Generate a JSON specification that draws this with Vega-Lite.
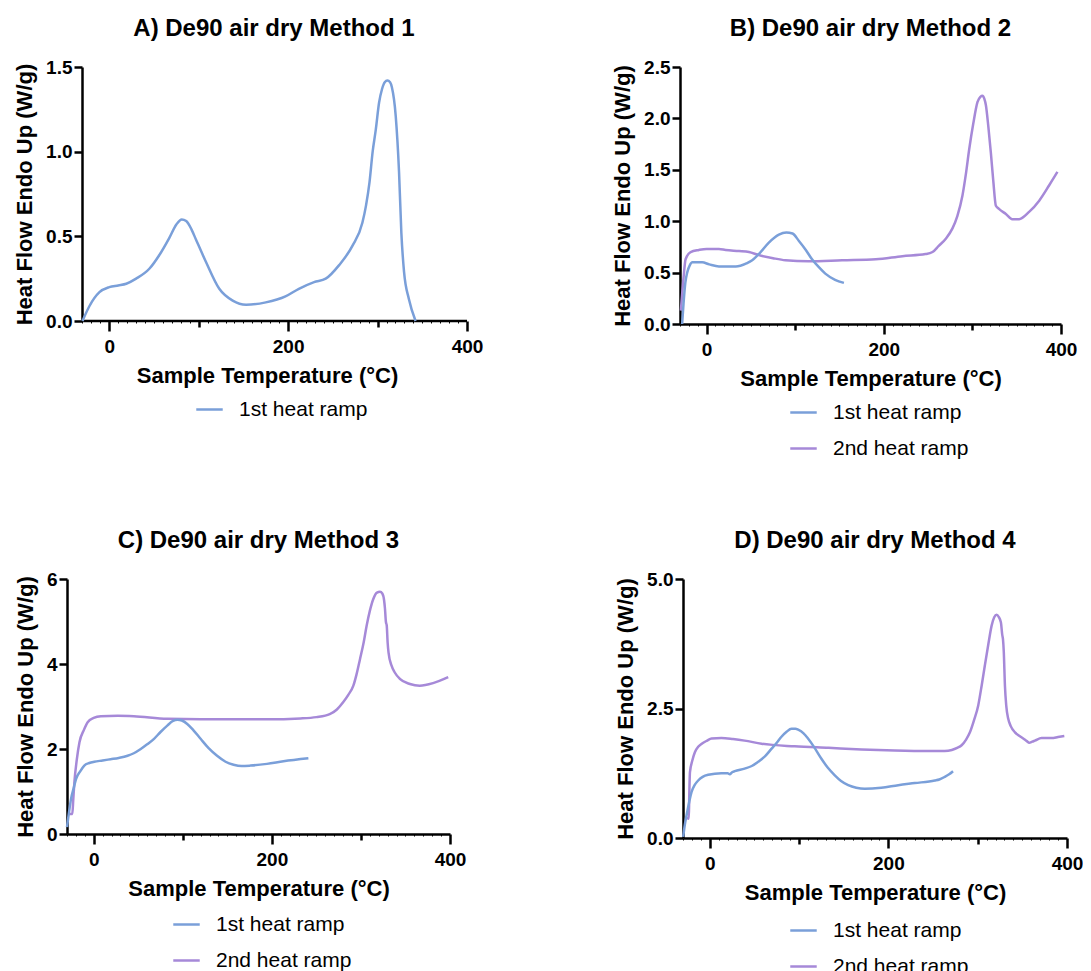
{
  "$schema": "https://vega.github.io/schema/vega-lite/v6.json",
  "background": "white",
  "padding": {"left": 13, "top": 17, "right": 0, "bottom": 0},
  "config": {
    "font": "Liberation Sans",
    "view": {"stroke": null},
    "title": {"fontSize": 24, "fontWeight": "bold", "color": "black", "font": "Liberation Sans", "offset": 17, "anchor": "middle"},
    "axis": {"domainColor": "black", "domainWidth": 2.5, "tickColor": "black", "tickWidth": 2.5, "labelFontSize": 19, "labelFontWeight": "bold", "labelColor": "black", "labelFont": "Liberation Sans", "titleFontSize": 22, "titleFontWeight": "bold", "titleColor": "black", "titleFont": "Liberation Sans", "grid": false},
    "axisY": {"tickSize": 8, "labelPadding": 2, "titlePadding": 9},
    "axisX": {"labelPadding": 6, "titlePadding": 9},
    "legend": {"labelFontSize": 21, "labelFont": "Liberation Sans", "labelColor": "black", "symbolType": "stroke", "symbolStrokeWidth": 3, "symbolSize": 700, "labelOffset": 15, "rowPadding": 11, "direction": "vertical", "orient": "none"},
    "line": {"strokeWidth": 2.5, "interpolate": "monotone"}
  },
  "datasets": {
    "Abase": [{"t": -30, "t2": 400, "h": 0}],
    "A": [
      {"r":"1st heat ramp","t":-30,"h":0},{"r":"1st heat ramp","t":-22,"h":0.09},{"r":"1st heat ramp","t":-11,"h":0.17},{"r":"1st heat ramp","t":0,"h":0.2},{"r":"1st heat ramp","t":10,"h":0.21},{"r":"1st heat ramp","t":19,"h":0.22},{"r":"1st heat ramp","t":30,"h":0.25},{"r":"1st heat ramp","t":45,"h":0.31},{"r":"1st heat ramp","t":56,"h":0.39},{"r":"1st heat ramp","t":67,"h":0.49},{"r":"1st heat ramp","t":75,"h":0.57},{"r":"1st heat ramp","t":81,"h":0.6},{"r":"1st heat ramp","t":86,"h":0.59},{"r":"1st heat ramp","t":92,"h":0.54},{"r":"1st heat ramp","t":97,"h":0.48},{"r":"1st heat ramp","t":108,"h":0.35},{"r":"1st heat ramp","t":123,"h":0.19},{"r":"1st heat ramp","t":138,"h":0.12},{"r":"1st heat ramp","t":153,"h":0.096},{"r":"1st heat ramp","t":175,"h":0.11},{"r":"1st heat ramp","t":197,"h":0.145},{"r":"1st heat ramp","t":212,"h":0.19},{"r":"1st heat ramp","t":229,"h":0.23},{"r":"1st heat ramp","t":242,"h":0.25},{"r":"1st heat ramp","t":257,"h":0.33},{"r":"1st heat ramp","t":272,"h":0.445},{"r":"1st heat ramp","t":283,"h":0.58},{"r":"1st heat ramp","t":287,"h":0.68},{"r":"1st heat ramp","t":291,"h":0.82},{"r":"1st heat ramp","t":294.5,"h":1.0},{"r":"1st heat ramp","t":298,"h":1.13},{"r":"1st heat ramp","t":301.7,"h":1.29},{"r":"1st heat ramp","t":305,"h":1.37},{"r":"1st heat ramp","t":308,"h":1.41},{"r":"1st heat ramp","t":311,"h":1.42},{"r":"1st heat ramp","t":314,"h":1.41},{"r":"1st heat ramp","t":316,"h":1.38},{"r":"1st heat ramp","t":320.3,"h":1.21},{"r":"1st heat ramp","t":324,"h":0.88},{"r":"1st heat ramp","t":326.6,"h":0.52},{"r":"1st heat ramp","t":329.6,"h":0.29},{"r":"1st heat ramp","t":335,"h":0.13},{"r":"1st heat ramp","t":342.5,"h":0}
    ],
    "B": [
      {"r":"2nd heat ramp","t":-29,"h":0.13},{"r":"2nd heat ramp","t":-26,"h":0.45},{"r":"2nd heat ramp","t":-23.7,"h":0.63},{"r":"2nd heat ramp","t":-18,"h":0.7},{"r":"2nd heat ramp","t":-8.7,"h":0.72},{"r":"2nd heat ramp","t":0,"h":0.73},{"r":"2nd heat ramp","t":14,"h":0.73},{"r":"2nd heat ramp","t":21.5,"h":0.72},{"r":"2nd heat ramp","t":36.6,"h":0.71},{"r":"2nd heat ramp","t":47.8,"h":0.7},{"r":"2nd heat ramp","t":59,"h":0.67},{"r":"2nd heat ramp","t":75,"h":0.64},{"r":"2nd heat ramp","t":89,"h":0.62},{"r":"2nd heat ramp","t":115,"h":0.61},{"r":"2nd heat ramp","t":153,"h":0.62},{"r":"2nd heat ramp","t":191,"h":0.63},{"r":"2nd heat ramp","t":221,"h":0.66},{"r":"2nd heat ramp","t":247,"h":0.68},{"r":"2nd heat ramp","t":255,"h":0.7},{"r":"2nd heat ramp","t":262,"h":0.76},{"r":"2nd heat ramp","t":270,"h":0.83},{"r":"2nd heat ramp","t":277.5,"h":0.93},{"r":"2nd heat ramp","t":283,"h":1.05},{"r":"2nd heat ramp","t":288.8,"h":1.25},{"r":"2nd heat ramp","t":292.5,"h":1.45},{"r":"2nd heat ramp","t":296.4,"h":1.7},{"r":"2nd heat ramp","t":301,"h":1.95},{"r":"2nd heat ramp","t":305.8,"h":2.16},{"r":"2nd heat ramp","t":309,"h":2.21},{"r":"2nd heat ramp","t":311.4,"h":2.22},{"r":"2nd heat ramp","t":313.5,"h":2.19},{"r":"2nd heat ramp","t":315.2,"h":2.13},{"r":"2nd heat ramp","t":318,"h":1.92},{"r":"2nd heat ramp","t":320.8,"h":1.67},{"r":"2nd heat ramp","t":323.5,"h":1.4},{"r":"2nd heat ramp","t":326.5,"h":1.15},{"r":"2nd heat ramp","t":330,"h":1.12},{"r":"2nd heat ramp","t":337.8,"h":1.07},{"r":"2nd heat ramp","t":345,"h":1.02},{"r":"2nd heat ramp","t":352.8,"h":1.02},{"r":"2nd heat ramp","t":364,"h":1.09},{"r":"2nd heat ramp","t":375.4,"h":1.2},{"r":"2nd heat ramp","t":386.7,"h":1.35},{"r":"2nd heat ramp","t":396,"h":1.48},
      {"r":"1st heat ramp","t":-27.6,"h":0},{"r":"1st heat ramp","t":-26,"h":0.2},{"r":"1st heat ramp","t":-24,"h":0.4},{"r":"1st heat ramp","t":-21.9,"h":0.5},{"r":"1st heat ramp","t":-19,"h":0.57},{"r":"1st heat ramp","t":-16,"h":0.6},{"r":"1st heat ramp","t":-5,"h":0.6},{"r":"1st heat ramp","t":3,"h":0.58},{"r":"1st heat ramp","t":14,"h":0.56},{"r":"1st heat ramp","t":33,"h":0.56},{"r":"1st heat ramp","t":45,"h":0.59},{"r":"1st heat ramp","t":51.5,"h":0.62},{"r":"1st heat ramp","t":60,"h":0.69},{"r":"1st heat ramp","t":70,"h":0.79},{"r":"1st heat ramp","t":81.6,"h":0.87},{"r":"1st heat ramp","t":90,"h":0.89},{"r":"1st heat ramp","t":97,"h":0.88},{"r":"1st heat ramp","t":104,"h":0.81},{"r":"1st heat ramp","t":112,"h":0.72},{"r":"1st heat ramp","t":119,"h":0.63},{"r":"1st heat ramp","t":127,"h":0.55},{"r":"1st heat ramp","t":134,"h":0.49},{"r":"1st heat ramp","t":145,"h":0.43},{"r":"1st heat ramp","t":155,"h":0.4}
    ],
    "C": [
      {"r":"2nd heat ramp","t":-27.5,"h":0.47},{"r":"2nd heat ramp","t":-24,"h":0.47},{"r":"2nd heat ramp","t":-23,"h":0.8},{"r":"2nd heat ramp","t":-21.7,"h":1.22},{"r":"2nd heat ramp","t":-19,"h":1.75},{"r":"2nd heat ramp","t":-16,"h":2.16},{"r":"2nd heat ramp","t":-11,"h":2.45},{"r":"2nd heat ramp","t":-6.8,"h":2.63},{"r":"2nd heat ramp","t":0,"h":2.73},{"r":"2nd heat ramp","t":8,"h":2.77},{"r":"2nd heat ramp","t":27,"h":2.78},{"r":"2nd heat ramp","t":45,"h":2.77},{"r":"2nd heat ramp","t":82.6,"h":2.71},{"r":"2nd heat ramp","t":120,"h":2.7},{"r":"2nd heat ramp","t":157,"h":2.7},{"r":"2nd heat ramp","t":194.5,"h":2.7},{"r":"2nd heat ramp","t":232,"h":2.72},{"r":"2nd heat ramp","t":250,"h":2.75},{"r":"2nd heat ramp","t":265,"h":2.82},{"r":"2nd heat ramp","t":273,"h":2.93},{"r":"2nd heat ramp","t":280,"h":3.1},{"r":"2nd heat ramp","t":286,"h":3.28},{"r":"2nd heat ramp","t":291.5,"h":3.49},{"r":"2nd heat ramp","t":295,"h":3.75},{"r":"2nd heat ramp","t":299,"h":4.12},{"r":"2nd heat ramp","t":303,"h":4.5},{"r":"2nd heat ramp","t":306.4,"h":4.9},{"r":"2nd heat ramp","t":310,"h":5.25},{"r":"2nd heat ramp","t":313.9,"h":5.53},{"r":"2nd heat ramp","t":318,"h":5.68},{"r":"2nd heat ramp","t":321.4,"h":5.7},{"r":"2nd heat ramp","t":324,"h":5.66},{"r":"2nd heat ramp","t":326,"h":5.5},{"r":"2nd heat ramp","t":327,"h":5.3},{"r":"2nd heat ramp","t":328,"h":5.0},{"r":"2nd heat ramp","t":329,"h":4.9},{"r":"2nd heat ramp","t":330,"h":4.5},{"r":"2nd heat ramp","t":331,"h":4.27},{"r":"2nd heat ramp","t":334.4,"h":3.96},{"r":"2nd heat ramp","t":338,"h":3.8},{"r":"2nd heat ramp","t":343.7,"h":3.65},{"r":"2nd heat ramp","t":355,"h":3.53},{"r":"2nd heat ramp","t":366,"h":3.49},{"r":"2nd heat ramp","t":381,"h":3.55},{"r":"2nd heat ramp","t":398,"h":3.69},
      {"r":"1st heat ramp","t":-30,"h":0.16},{"r":"1st heat ramp","t":-27.5,"h":0.55},{"r":"1st heat ramp","t":-25.5,"h":0.82},{"r":"1st heat ramp","t":-22,"h":1.12},{"r":"1st heat ramp","t":-19.9,"h":1.29},{"r":"1st heat ramp","t":-15,"h":1.48},{"r":"1st heat ramp","t":-10.6,"h":1.61},{"r":"1st heat ramp","t":-5,"h":1.67},{"r":"1st heat ramp","t":0.6,"h":1.7},{"r":"1st heat ramp","t":10,"h":1.73},{"r":"1st heat ramp","t":19,"h":1.76},{"r":"1st heat ramp","t":28,"h":1.79},{"r":"1st heat ramp","t":38,"h":1.84},{"r":"1st heat ramp","t":45,"h":1.9},{"r":"1st heat ramp","t":52.8,"h":2.0},{"r":"1st heat ramp","t":60,"h":2.11},{"r":"1st heat ramp","t":67.7,"h":2.24},{"r":"1st heat ramp","t":75,"h":2.4},{"r":"1st heat ramp","t":82.6,"h":2.55},{"r":"1st heat ramp","t":89,"h":2.66},{"r":"1st heat ramp","t":94,"h":2.69},{"r":"1st heat ramp","t":99,"h":2.67},{"r":"1st heat ramp","t":105,"h":2.59},{"r":"1st heat ramp","t":112,"h":2.44},{"r":"1st heat ramp","t":120,"h":2.24},{"r":"1st heat ramp","t":129,"h":2.02},{"r":"1st heat ramp","t":138.5,"h":1.84},{"r":"1st heat ramp","t":148,"h":1.7},{"r":"1st heat ramp","t":157,"h":1.63},{"r":"1st heat ramp","t":166,"h":1.6},{"r":"1st heat ramp","t":176,"h":1.61},{"r":"1st heat ramp","t":194.5,"h":1.65},{"r":"1st heat ramp","t":213,"h":1.71},{"r":"1st heat ramp","t":241,"h":1.78}
    ],
    "D": [
      {"r":"2nd heat ramp","t":-27,"h":0.4},{"r":"2nd heat ramp","t":-23.5,"h":0.37},{"r":"2nd heat ramp","t":-23,"h":0.8},{"r":"2nd heat ramp","t":-22.2,"h":1.27},{"r":"2nd heat ramp","t":-19.5,"h":1.5},{"r":"2nd heat ramp","t":-16.6,"h":1.66},{"r":"2nd heat ramp","t":-13,"h":1.76},{"r":"2nd heat ramp","t":-9,"h":1.82},{"r":"2nd heat ramp","t":-3,"h":1.88},{"r":"2nd heat ramp","t":2,"h":1.92},{"r":"2nd heat ramp","t":13,"h":1.93},{"r":"2nd heat ramp","t":26,"h":1.91},{"r":"2nd heat ramp","t":39,"h":1.88},{"r":"2nd heat ramp","t":58,"h":1.82},{"r":"2nd heat ramp","t":95,"h":1.77},{"r":"2nd heat ramp","t":133,"h":1.74},{"r":"2nd heat ramp","t":170,"h":1.71},{"r":"2nd heat ramp","t":207,"h":1.69},{"r":"2nd heat ramp","t":245,"h":1.68},{"r":"2nd heat ramp","t":263,"h":1.68},{"r":"2nd heat ramp","t":271,"h":1.7},{"r":"2nd heat ramp","t":277,"h":1.74},{"r":"2nd heat ramp","t":282,"h":1.79},{"r":"2nd heat ramp","t":287,"h":1.9},{"r":"2nd heat ramp","t":291.3,"h":2.04},{"r":"2nd heat ramp","t":296,"h":2.28},{"r":"2nd heat ramp","t":300.6,"h":2.56},{"r":"2nd heat ramp","t":304.5,"h":2.95},{"r":"2nd heat ramp","t":308,"h":3.33},{"r":"2nd heat ramp","t":312,"h":3.75},{"r":"2nd heat ramp","t":315.6,"h":4.1},{"r":"2nd heat ramp","t":318.5,"h":4.26},{"r":"2nd heat ramp","t":321.2,"h":4.31},{"r":"2nd heat ramp","t":323.5,"h":4.27},{"r":"2nd heat ramp","t":326,"h":4.16},{"r":"2nd heat ramp","t":327.5,"h":3.92},{"r":"2nd heat ramp","t":328.3,"h":3.84},{"r":"2nd heat ramp","t":329.2,"h":3.6},{"r":"2nd heat ramp","t":330.5,"h":2.94},{"r":"2nd heat ramp","t":332,"h":2.55},{"r":"2nd heat ramp","t":334.2,"h":2.3},{"r":"2nd heat ramp","t":337,"h":2.16},{"r":"2nd heat ramp","t":341.7,"h":2.04},{"r":"2nd heat ramp","t":346,"h":1.98},{"r":"2nd heat ramp","t":351,"h":1.92},{"r":"2nd heat ramp","t":355,"h":1.87},{"r":"2nd heat ramp","t":357.7,"h":1.84},{"r":"2nd heat ramp","t":361,"h":1.86},{"r":"2nd heat ramp","t":364,"h":1.88},{"r":"2nd heat ramp","t":371.5,"h":1.93},{"r":"2nd heat ramp","t":382.7,"h":1.93},{"r":"2nd heat ramp","t":390,"h":1.95},{"r":"2nd heat ramp","t":397,"h":1.97},
      {"r":"1st heat ramp","t":-29.8,"h":0.02},{"r":"1st heat ramp","t":-28,"h":0.25},{"r":"1st heat ramp","t":-26,"h":0.44},{"r":"1st heat ramp","t":-23,"h":0.7},{"r":"1st heat ramp","t":-20.4,"h":0.89},{"r":"1st heat ramp","t":-17,"h":1.02},{"r":"1st heat ramp","t":-13,"h":1.11},{"r":"1st heat ramp","t":-8,"h":1.18},{"r":"1st heat ramp","t":-1.8,"h":1.22},{"r":"1st heat ramp","t":13,"h":1.25},{"r":"1st heat ramp","t":20,"h":1.25},{"r":"1st heat ramp","t":22.4,"h":1.23},{"r":"1st heat ramp","t":25,"h":1.27},{"r":"1st heat ramp","t":28,"h":1.29},{"r":"1st heat ramp","t":39,"h":1.34},{"r":"1st heat ramp","t":47,"h":1.39},{"r":"1st heat ramp","t":54,"h":1.47},{"r":"1st heat ramp","t":62,"h":1.58},{"r":"1st heat ramp","t":69,"h":1.72},{"r":"1st heat ramp","t":75,"h":1.84},{"r":"1st heat ramp","t":80,"h":1.95},{"r":"1st heat ramp","t":86,"h":2.05},{"r":"1st heat ramp","t":91.4,"h":2.11},{"r":"1st heat ramp","t":96,"h":2.11},{"r":"1st heat ramp","t":99,"h":2.09},{"r":"1st heat ramp","t":105,"h":2.02},{"r":"1st heat ramp","t":110,"h":1.92},{"r":"1st heat ramp","t":117,"h":1.75},{"r":"1st heat ramp","t":125,"h":1.53},{"r":"1st heat ramp","t":132,"h":1.36},{"r":"1st heat ramp","t":140,"h":1.21},{"r":"1st heat ramp","t":147,"h":1.1},{"r":"1st heat ramp","t":155,"h":1.02},{"r":"1st heat ramp","t":164,"h":0.97},{"r":"1st heat ramp","t":173.5,"h":0.95},{"r":"1st heat ramp","t":192,"h":0.97},{"r":"1st heat ramp","t":211,"h":1.02},{"r":"1st heat ramp","t":229.5,"h":1.06},{"r":"1st heat ramp","t":252,"h":1.11},{"r":"1st heat ramp","t":257,"h":1.13},{"r":"1st heat ramp","t":263,"h":1.18},{"r":"1st heat ramp","t":268,"h":1.23},{"r":"1st heat ramp","t":272.4,"h":1.29}
    ]
  },
  "resolve": {"scale": {"x": "independent", "y": "independent", "color": "independent"}, "axis": {"x": "independent", "y": "independent"}, "legend": {"color": "independent"}},
  "spacing": 70,
  "vconcat": [
    {
      "spacing": 128,
      "resolve": {"scale": {"x": "independent", "y": "independent", "color": "independent"}, "axis": {"x": "independent", "y": "independent"}, "legend": {"color": "independent"}},
      "hconcat": [
        {
          "title": {"text": "A) De90 air dry Method 1", "dx": 7},
          "width": 400, "height": 254,
          "encoding": {
            "x": {"field": "t", "type": "quantitative", "title": "Sample Temperature (°C)", "scale": {"domain": [-47.3, 400], "nice": false, "zero": false},
              "axis": {"domain": false, "values": [-30,-20,-10,0,10,20,30,40,50,60,70,80,90,100,110,120,130,140,150,160,170,180,190,200,210,220,230,240,250,260,270,280,290,300,310,320,330,340,350,360,370,380,390,400],
                "labelExpr": "datum.value % 200 === 0 ? datum.label : ''", "labelOverlap": false, "labelFlush": false,
                "tickSize": {"condition": [{"test": "datum.value % 200 === 0", "value": 10}, {"test": "datum.value % 100 === 0", "value": 6}], "value": 2},
                "tickWidth": {"condition": {"test": "datum.value % 100 === 0", "value": 2.5}, "value": 1}}},
            "y": {"field": "h", "type": "quantitative", "title": "Heat Flow Endo Up (W/g)", "scale": {"domain": [0, 1.5], "nice": false}, "axis": {"values": [0, 0.5, 1, 1.5], "format": ".1f", "offset": -15}}
          },
          "layer": [
            {
              "data": {"name": "Abase"},
              "mark": {"type": "rule", "color": "black", "strokeWidth": 2.5},
              "encoding": {"x2": {"field": "t2"}}
            },
            {
              "data": {"name": "A"},
              "mark": {"type": "line"},
              "encoding": {
                "color": {"field": "r", "type": "nominal", "scale": {"domain": ["1st heat ramp"], "range": ["#7a9fd9"]}, "legend": {"title": null, "orient": "none", "legendX": 128, "legendY": 328}}
              }
            }
          ]
        },
        {
          "title": "B) De90 air dry Method 2",
          "width": 381, "height": 257,
          "data": {"name": "B"},
          "mark": {"type": "line"},
          "encoding": {
            "x": {"field": "t", "type": "quantitative", "title": "Sample Temperature (°C)", "scale": {"domain": [-30, 400], "nice": false, "zero": false},
              "axis": {"values": [-30,-20,-10,0,10,20,30,40,50,60,70,80,90,100,110,120,130,140,150,160,170,180,190,200,210,220,230,240,250,260,270,280,290,300,310,320,330,340,350,360,370,380,390,400],
                "labelExpr": "datum.value % 200 === 0 ? datum.label : ''", "labelOverlap": false, "labelFlush": false,
                "tickSize": {"condition": [{"test": "datum.value % 200 === 0", "value": 10}, {"test": "datum.value % 100 === 0", "value": 6}], "value": 2},
                "tickWidth": {"condition": {"test": "datum.value % 100 === 0", "value": 2.5}, "value": 1}}},
            "y": {"field": "h", "type": "quantitative", "title": "Heat Flow Endo Up (W/g)", "scale": {"domain": [0, 2.5], "nice": false}, "axis": {"values": [0, 0.5, 1, 1.5, 2, 2.5], "format": ".1f"}},
            "color": {"field": "r", "type": "nominal", "scale": {"domain": ["1st heat ramp", "2nd heat ramp"], "range": ["#7a9fd9", "#a689d8"]}, "legend": {"title": null, "orient": "none", "legendX": 109, "legendY": 331}}
          }
        }
      ]
    },
    {
      "spacing": 148,
      "resolve": {"scale": {"x": "independent", "y": "independent", "color": "independent"}, "axis": {"x": "independent", "y": "independent"}, "legend": {"color": "independent"}},
      "hconcat": [
        {
          "title": "C) De90 air dry Method 3",
          "width": 383, "height": 255,
          "data": {"name": "C"},
          "mark": {"type": "line"},
          "encoding": {
            "x": {"field": "t", "type": "quantitative", "title": "Sample Temperature (°C)", "scale": {"domain": [-30, 400], "nice": false, "zero": false},
              "axis": {"values": [-30,-20,-10,0,10,20,30,40,50,60,70,80,90,100,110,120,130,140,150,160,170,180,190,200,210,220,230,240,250,260,270,280,290,300,310,320,330,340,350,360,370,380,390,400],
                "labelExpr": "datum.value % 200 === 0 ? datum.label : ''", "labelOverlap": false, "labelFlush": false,
                "tickSize": {"condition": [{"test": "datum.value % 200 === 0", "value": 10}, {"test": "datum.value % 100 === 0", "value": 6}], "value": 2},
                "tickWidth": {"condition": {"test": "datum.value % 100 === 0", "value": 2.5}, "value": 1}}},
            "y": {"field": "h", "type": "quantitative", "title": "Heat Flow Endo Up (W/g)", "scale": {"domain": [0, 6], "nice": false}, "axis": {"values": [0, 2, 4, 6], "format": "d"}},
            "color": {"field": "r", "type": "nominal", "scale": {"domain": ["1st heat ramp", "2nd heat ramp"], "range": ["#7a9fd9", "#a689d8"]}, "legend": {"title": null, "orient": "none", "legendX": 105, "legendY": 331}}
          }
        },
        {
          "title": "D) De90 air dry Method 4",
          "width": 384, "height": 259,
          "data": {"name": "D"},
          "mark": {"type": "line"},
          "encoding": {
            "x": {"field": "t", "type": "quantitative", "title": "Sample Temperature (°C)", "scale": {"domain": [-30, 400], "nice": false, "zero": false},
              "axis": {"values": [-30,-20,-10,0,10,20,30,40,50,60,70,80,90,100,110,120,130,140,150,160,170,180,190,200,210,220,230,240,250,260,270,280,290,300,310,320,330,340,350,360,370,380,390,400],
                "labelExpr": "datum.value % 200 === 0 ? datum.label : ''", "labelOverlap": false, "labelFlush": false,
                "tickSize": {"condition": [{"test": "datum.value % 200 === 0", "value": 10}, {"test": "datum.value % 100 === 0", "value": 6}], "value": 2},
                "tickWidth": {"condition": {"test": "datum.value % 100 === 0", "value": 2.5}, "value": 1}}},
            "y": {"field": "h", "type": "quantitative", "title": "Heat Flow Endo Up (W/g)", "scale": {"domain": [0, 5], "nice": false}, "axis": {"values": [0, 2.5, 5], "format": ".1f"}},
            "color": {"field": "r", "type": "nominal", "scale": {"domain": ["1st heat ramp", "2nd heat ramp"], "range": ["#7a9fd9", "#a689d8"]}, "legend": {"title": null, "orient": "none", "legendX": 106, "legendY": 337}}
          }
        }
      ]
    }
  ]
}
